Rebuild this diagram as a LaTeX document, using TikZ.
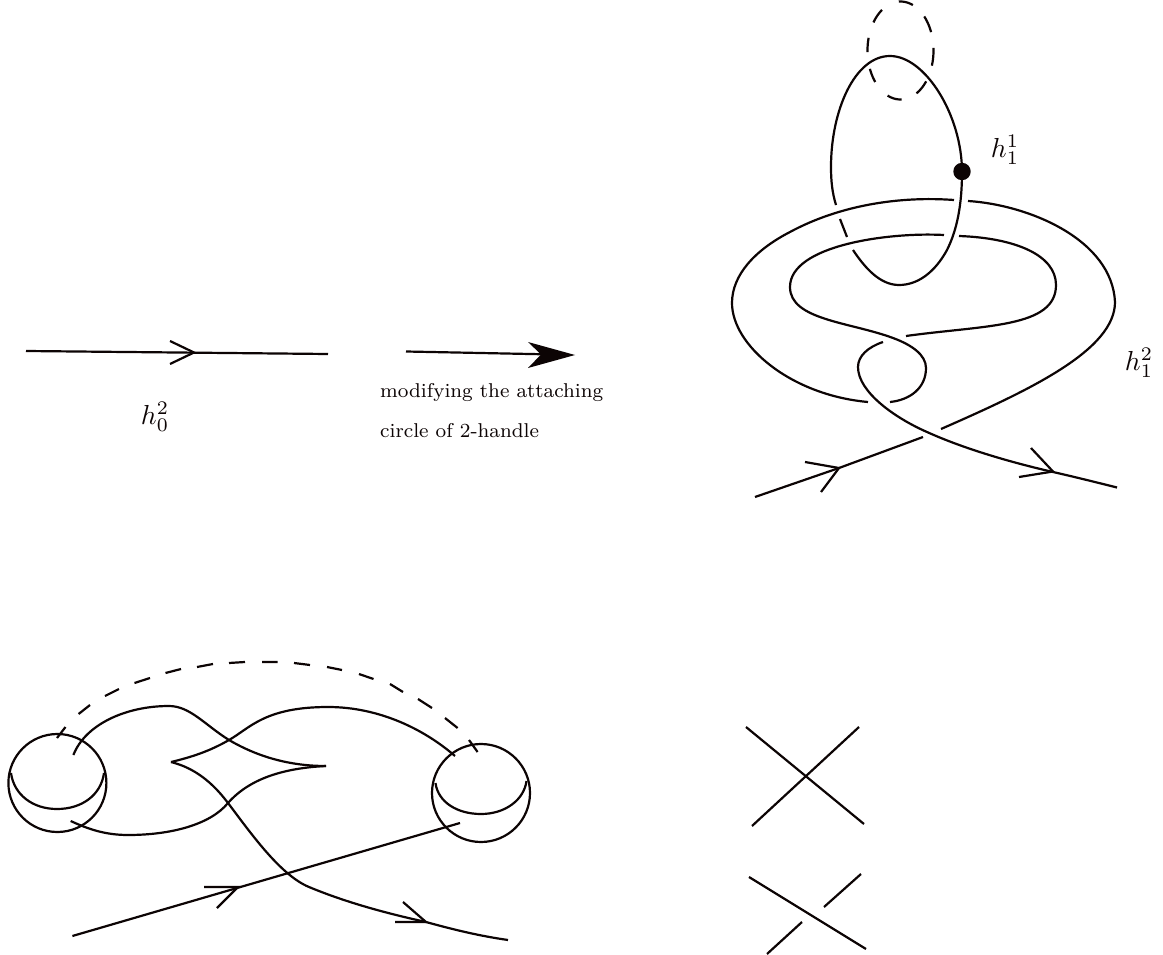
\documentclass[tikz,border=0pt]{standalone}
\usepackage{graphicx}
\definecolor{ink}{HTML}{0C0404}
\tikzset{
  strand/.style={draw=ink,line width=2.2pt},
  lab/.style={inner sep=0pt,text=ink},
  captiontext/.style={inner sep=0pt,anchor=west,text=ink}
}
\begin{document}
\begin{tikzpicture}[x=1pt,y=-1pt]
\useasboundingbox (0,0) rectangle (1163,955);
% top left
\draw[strand] (26,351) -- (328,354);
\draw[strand] (170,341) -- (194,352.5) -- (170,364);
\node[lab] (h02) at (155,417) {\scalebox{2.75}{$h_0^2$}};
\draw[strand] (406,351.5) -- (545,354.3);
\fill[ink] (528,342) -- (575,355) -- (528,368) -- (541,354.5) -- cycle;
\node[captiontext] (t1) at (380,393) {\scalebox{2.5}{\footnotesize modifying the attaching}};
\node[captiontext] (t2) at (380,431) {\scalebox{2.5}{\footnotesize circle of 2-handle}};
% dashed ellipse
\foreach \a/\b in {93/68,44/22,3/-18,-39/-61,-88/-113,-140/-158,-178/-195,-215/-236}
  \draw[strand] plot[domain=\a:\b,samples=8,smooth] ({900.5+33*cos(\x)},{50.5-49*sin(\x)});
% handle loop
\draw[strand] (836,205) .. controls (832,192) and (831,180) .. (831,167)
  .. controls (831,110) and (855,56) .. (890,56)
  .. controls (925,56) and (962,115) .. (962,172)
  .. controls (962,205) and (957,230) .. (947,250)
  .. controls (935,272) and (918,285) .. (899,285)
  .. controls (880,285) and (865,268) .. (853,250);
\draw[strand] (840,219) -- (847,237);
\fill[ink] (962,171.5) circle[radius=8.7];
\node[lab] (h11) at (1005,150) {\scalebox{2.75}{$h_1^1$}};
\node[lab] (h12) at (1139,363) {\scalebox{2.75}{$h_1^2$}};
% outer loop
\draw[strand] (954,200) .. controls (900,196) and (840,205) .. (790,232)
  .. controls (755,250) and (732,275) .. (732,303)
  .. controls (732,345) and (790,395) .. (868,402);
\draw[strand] (968,201) .. controls (1030,205) and (1112,240) .. (1115,302)
  .. controls (1115,350) and (1030,390) .. (941,429);
% inner loop
\draw[strand] (944,235) .. controls (890,232) and (790,245) .. (790,287)
  .. controls (790,320) and (850,322) .. (893,338)
  .. controls (912,345) and (926,355) .. (926,368)
  .. controls (926,388) and (910,400) .. (890,402);
\draw[strand] (959,236) .. controls (1015,238) and (1056,255) .. (1056,285)
  .. controls (1056,328) and (985,325) .. (906,336);
% strands to the ends
\draw[strand] (883,342) .. controls (868,347) and (858,356) .. (858,367)
  .. controls (858,392) and (895,418) .. (927,432)
  .. controls (960,447) and (1005,461) .. (1053,472)
  .. controls (1075,477) and (1095,482) .. (1117,487.5);
\draw[strand] (755,497) -- (839,468) -- (923,437);
\draw[strand] (805,462) -- (839,468) -- (821,492);
\draw[strand] (1031,448) -- (1053,471.5) -- (1019,477);
% bottom left circles
\draw[strand] (57.4,783) circle[radius=49];
\draw[strand] (481,793) circle[radius=49];
\draw[strand] (11,773) .. controls (14,795) and (33,809) .. (57,809) .. controls (82,809) and (101,795) .. (104,773);
\draw[strand] (435.5,783) .. controls (438,802) and (457,814) .. (481,814) .. controls (505,814) and (524,800) .. (526.5,781);
% dashes of the arc
\draw[strand] (57,738) -- (65.5,727) (78.6,714) -- (90,705) (105,696) -- (119,689)
  (134.5,683) -- (150,678) (165.5,673) -- (181,669) (197,667) -- (213,664)
  (229,663) -- (245,662) (262,662) -- (277.6,662) (294,663) -- (310,665)
  (327,667) -- (342,670) (359,674) -- (373.5,679) (390,684) -- (403,692)
  (418,699) -- (432,708) (445,718) -- (457.6,728) (469,740) -- (477.6,752);
% curves between circles
\draw[strand] (73.4,755) .. controls (85,725) and (125,706) .. (169,706)
  .. controls (190,706) and (205,725) .. (229,740)
  .. controls (258,757) and (290,766) .. (326,766);
\draw[strand] (326,766) .. controls (285,768) and (250,778) .. (228,803)
  .. controls (210,825) and (170,835) .. (128,835)
  .. controls (105,835) and (88,829) .. (70.7,821);
\draw[strand] (171,762) .. controls (192,757) and (210,751) .. (229,740)
  .. controls (250,728) and (265,707) .. (328,707)
  .. controls (380,707) and (425,730) .. (455,756);
\draw[strand] (171,762) .. controls (195,768) and (213,783) .. (228,803)
  .. controls (250,832) and (280,875) .. (309,887)
  .. controls (345,902) and (385,913) .. (426,922)
  .. controls (455,930) and (480,936) .. (508,940);
\draw[strand] (72.4,936) -- (460,823);
\draw[strand] (204,887) -- (238,887) -- (217,908);
\draw[strand] (403,902) -- (426,922) -- (395,922);
% crossings
\draw[strand] (746,727) -- (864,824);
\draw[strand] (859,727) -- (752,826);
\draw[strand] (749,877) -- (866,949);
\draw[strand] (861,874) -- (824,907);
\draw[strand] (802,922) -- (767,954);
\end{tikzpicture}
\end{document}
